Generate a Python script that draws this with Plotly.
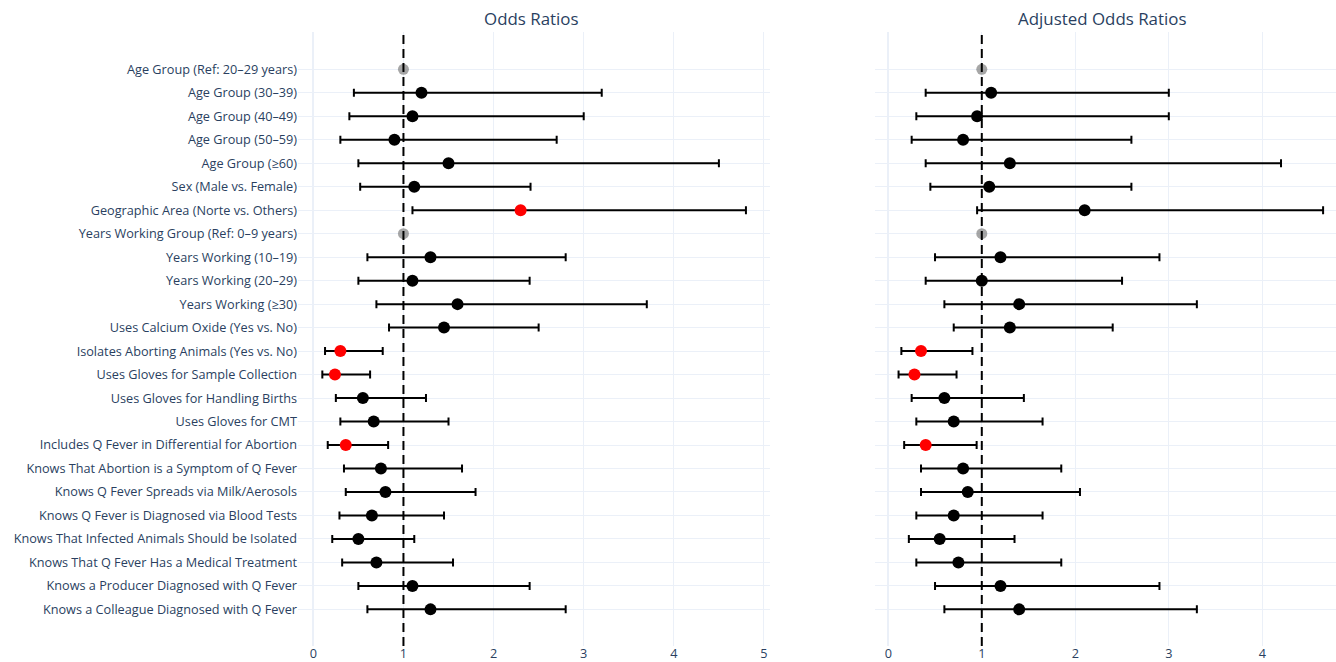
import plotly.graph_objects as go
from plotly.subplots import make_subplots

labels = [
    "Age Group (Ref: 20–29 years)",
    "Age Group (30–39)",
    "Age Group (40–49)",
    "Age Group (50–59)",
    "Age Group (≥60)",
    "Sex (Male vs. Female)",
    "Geographic Area (Norte vs. Others)",
    "Years Working Group (Ref: 0–9 years)",
    "Years Working (10–19)",
    "Years Working (20–29)",
    "Years Working (≥30)",
    "Uses Calcium Oxide (Yes vs. No)",
    "Isolates Aborting Animals (Yes vs. No)",
    "Uses Gloves for Sample Collection",
    "Uses Gloves for Handling Births",
    "Uses Gloves for CMT",
    "Includes Q Fever in Differential for Abortion",
    "Knows That Abortion is a Symptom of Q Fever",
    "Knows Q Fever Spreads via Milk/Aerosols",
    "Knows Q Fever is Diagnosed via Blood Tests",
    "Knows That Infected Animals Should be Isolated",
    "Knows That Q Fever Has a Medical Treatment",
    "Knows a Producer Diagnosed with Q Fever",
    "Knows a Colleague Diagnosed with Q Fever",
]

or_est = [1.0, 1.2, 1.1, 0.9, 1.5, 1.12, 2.3, 1.0, 1.3, 1.1, 1.6, 1.45,
          0.3, 0.24, 0.55, 0.67, 0.36, 0.75, 0.8, 0.65, 0.5, 0.7, 1.1, 1.3]
or_lo = [1.0, 0.45, 0.4, 0.3, 0.5, 0.52, 1.1, 1.0, 0.6, 0.5, 0.7, 0.84,
         0.13, 0.1, 0.25, 0.3, 0.16, 0.34, 0.36, 0.29, 0.21, 0.32, 0.5, 0.6]
or_hi = [1.0, 3.2, 3.0, 2.7, 4.5, 2.41, 4.8, 1.0, 2.8, 2.4, 3.7, 2.5,
         0.77, 0.63, 1.25, 1.5, 0.83, 1.65, 1.8, 1.45, 1.12, 1.55, 2.4, 2.8]

aor_est = [1.0, 1.1, 0.95, 0.8, 1.3, 1.08, 2.1, 1.0, 1.2, 1.0, 1.4, 1.3,
           0.35, 0.28, 0.6, 0.7, 0.4, 0.8, 0.85, 0.7, 0.55, 0.75, 1.2, 1.4]
aor_lo = [1.0, 0.4, 0.3, 0.25, 0.4, 0.45, 0.95, 1.0, 0.5, 0.4, 0.6, 0.7,
          0.14, 0.11, 0.25, 0.3, 0.17, 0.35, 0.35, 0.3, 0.22, 0.3, 0.5, 0.6]
aor_hi = [1.0, 3.0, 3.0, 2.6, 4.2, 2.6, 4.65, 1.0, 2.9, 2.5, 3.3, 2.4,
          0.9, 0.73, 1.45, 1.65, 0.945, 1.85, 2.05, 1.65, 1.35, 1.85, 2.9, 3.3]

subplot_titles = ["Odds Ratios", "Adjusted Odds Ratios"]

fig = make_subplots(rows=1, cols=2, shared_yaxes=True,
                    subplot_titles=subplot_titles, horizontal_spacing=0.1)


def add_panel(est, lo, hi, col):
    ref_y, ref_x = [], []
    groups = {"black": ([], [], [], []), "red": ([], [], [], [])}
    for lab, e, l, h in zip(labels, est, lo, hi):
        if "Ref" in lab:
            ref_y.append(lab)
            ref_x.append(e)
            continue
        key = "red" if (l > 1 or h < 1) else "black"
        g = groups[key]
        g[0].append(lab)
        g[1].append(e)
        g[2].append(h - e)
        g[3].append(e - l)
    fig.add_trace(go.Scatter(
        x=ref_x, y=ref_y, mode="markers",
        marker=dict(color="gray", size=11, opacity=0.7),
        showlegend=False), row=1, col=col)
    for color, g in groups.items():
        fig.add_trace(go.Scatter(
            x=g[1], y=g[0], mode="markers",
            marker=dict(color=color, size=12),
            error_x=dict(type="data", symmetric=False, array=g[2],
                         arrayminus=g[3], color="black", thickness=2, width=4),
            showlegend=False), row=1, col=col)


add_panel(or_est, or_lo, or_hi, 1)
add_panel(aor_est, aor_lo, aor_hi, 2)

for xref in ["x", "x2"]:
    fig.add_shape(type="line", x0=1, x1=1, y0=0, y1=1, xref=xref,
                  yref="y domain", line=dict(color="black", width=2, dash="9px,5px"))

fig.update_layout(
    template="plotly_white",
    width=1336, height=662,
    margin=dict(l=298, r=0, t=32, b=16),
    showlegend=False,
    font=dict(size=12.7),
)
# plot area spans 1038 px (x 298..1336)
fig.update_xaxes(domain=[0, 472 / 1038], range=[-0.17, 5.067], row=1, col=1)
fig.update_xaxes(domain=[577 / 1038, 1], range=[-0.142, 4.788], row=1, col=2)
fig.update_xaxes(tickfont=dict(size=12.7), automargin=False, ticklabelstandoff=-2)
fig.update_yaxes(categoryorder="array", categoryarray=labels,
                 range=[23 + 1.56, -1.59], tickfont=dict(size=12.7))
fig.update_annotations(font_size=16.9)

fig.write_html("out.html",
               config={"displayModeBar": False},
               post_script="document.body.style.margin='0';"
                           "document.body.style.overflow='hidden';")
